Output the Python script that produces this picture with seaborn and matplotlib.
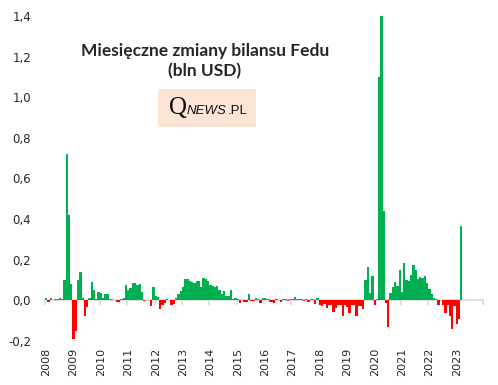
import numpy as np
import pandas as pd
import matplotlib
matplotlib.use("Agg")
import matplotlib.pyplot as plt
from matplotlib.patches import Rectangle
import seaborn as sns

# miesięczne zmiany bilansu Fed (bln USD)
y2008 = [0.01, -0.01, 0.01, 0.0, 0.005, 0.005, 0.01, 0.005, 0.10, 0.72, 0.42, 0.08]
y2009 = [-0.19, -0.15, 0.10, 0.138, 0.01, -0.077, -0.033, 0.01, 0.089, 0.049, 0.005, 0.04]
y2010 = [0.035, 0.01, 0.03, 0.03, 0.005, 0.005, 0.0, -0.01, -0.01, 0.005, 0.01, 0.074]
y2011 = [0.049, 0.059, 0.084, 0.084, 0.074, 0.079, 0.04, -0.005, 0.0, 0.0, -0.03, 0.064]
y2012 = [0.02, 0.015, -0.043, -0.023, -0.013, 0.005, 0.0, -0.023, -0.018, 0.01, 0.03, 0.044]
y2013 = [0.064, 0.103, 0.103, 0.094, 0.089, 0.084, 0.094, 0.094, 0.064, 0.108, 0.103, 0.094]
y2014 = [0.074, 0.069, 0.064, 0.069, 0.049, 0.03, 0.044, 0.02, 0.02, 0.049, 0.005, 0.01]
y2015 = [0.005, -0.013, 0.0, -0.008, -0.008, 0.03, -0.005, -0.005, 0.01, 0.005, -0.013, 0.01]
y2016 = [0.01, 0.005, -0.008, -0.008, -0.013, 0.005, 0.0, -0.008, 0.005, 0.005, -0.005, 0.005]
y2017 = [0.005, 0.015, 0.005, 0.005, 0.005, -0.005, 0.005, -0.01, 0.005, 0.005, -0.02, 0.01]
y2018 = [-0.025, -0.028, -0.018, -0.038, -0.023, -0.023, -0.057, -0.038, -0.023, -0.023, -0.077, -0.023]
y2019 = [-0.033, -0.062, -0.023, -0.023, -0.077, -0.028, -0.028, -0.043, 0.098, 0.162, 0.034, 0.118]
y2020 = [-0.025, 0.005, 1.10, 1.40, 0.44, -0.013, -0.13, 0.034, 0.064, 0.089, 0.069, 0.148]
y2021 = [0.039, 0.182, 0.10, 0.094, 0.123, 0.172, 0.148, 0.105, 0.113, 0.11, 0.12, 0.085]
y2022 = [0.054, 0.03, 0.012, 0.005, -0.025, 0.0, -0.025, -0.064, -0.025, -0.075, -0.14, -0.03]
y2023 = [-0.115, -0.09, 0.365]

years = list(range(2008, 2024))
yticks = [-0.2, 0.0, 0.2, 0.4, 0.6, 0.8, 1.0, 1.2, 1.4]

values = (y2008 + y2009 + y2010 + y2011 + y2012 + y2013 + y2014 + y2015
          + y2016 + y2017 + y2018 + y2019 + y2020 + y2021 + y2022 + y2023)
df = pd.DataFrame({"m": np.arange(len(values)), "v": values})
df["znak"] = np.where(df["v"] >= 0, "plus", "minus")

sns.set_style("white")
plt.rcParams["font.family"] = ["DejaVu Sans"]

fig = plt.figure(figsize=(4.98, 3.85), dpi=100)
ax = fig.add_axes([45 / 498, 44 / 385, 438 / 498, 325 / 385])

sns.barplot(data=df, x="m", y="v", hue="znak",
            palette={"plus": "#00b050", "minus": "#ff0000"},
            native_scale=True, dodge=False, width=1.0, saturation=1,
            errorbar=None, legend=False, linewidth=0, ax=ax)

n_months = 12 * len(years)
ax.set_xlim(-0.5, n_months - 0.5)
ax.set_ylim(-0.2, 1.4)

for s in ax.spines.values():
    s.set_visible(False)

ax.set_yticks(yticks)
ax.set_yticklabels([f"{t:.1f}".replace(".", ",") for t in yticks], fontsize=8.5)
ax.tick_params(axis="y", length=0, pad=10)

ax.set_xticks([12 * k for k in range(len(years))])
ax.set_xticklabels([str(y) for y in years], rotation=90, fontsize=8)
ax.tick_params(axis="x", length=0, pad=5)
ax.set_xlabel("")
ax.set_ylabel("")

# linia zera z kreskami lat
zero = ax.secondary_xaxis(0.2 / 1.6)
zero.spines["bottom"].set_color("#d9d9d9")
zero.spines["bottom"].set_linewidth(1.2)
zero.set_xticks([12 * k - 0.5 for k in range(len(years) + 1)], labels=[])
zero.tick_params(length=3.5, color="#d9d9d9", width=1.2)

fig.text(205 / 498, 1 - 61 / 385, "Miesięczne zmiany bilansu Fedu\n(bln USD)",
         ha="center", va="center", family="Lato", fontweight="bold",
         fontsize=12.5, linespacing=1.3)

# logo QNEWS.PL
fig.patches.append(Rectangle((158 / 498, 1 - 127 / 385), 98 / 498, 38 / 385,
                             transform=fig.transFigure, facecolor="#fce4d6",
                             edgecolor="none", zorder=0))
base_y = 1 - 114 / 385
fig.text(169 / 498, base_y, "Q", family="Liberation Serif",
         fontsize=18, va="baseline", color="#111111")
news = fig.text(187 / 498, base_y, "NEWS", family="Liberation Sans",
                style="italic", fontsize=9.5, va="baseline", color="#111111")
fig.canvas.draw()
bb = news.get_window_extent()
fig.text(bb.x1 / 498 + 0.002, base_y, ".PL", family="Liberation Sans",
         fontsize=9.5, va="baseline", color="#111111")

fig.savefig("out.png", dpi=100)
